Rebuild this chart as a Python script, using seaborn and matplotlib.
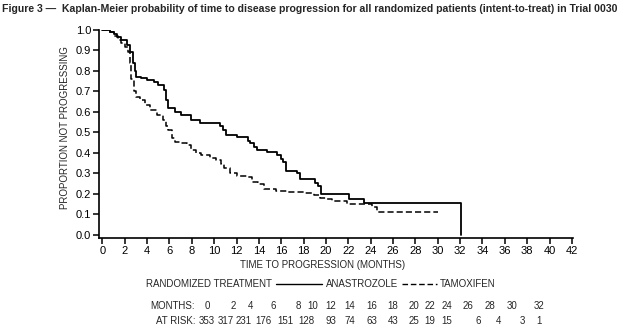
import matplotlib
matplotlib.use("Agg")
import matplotlib.pyplot as plt
from matplotlib.lines import Line2D
import seaborn as sns
import pandas as pd

# Kaplan-Meier step estimates (month at which the estimate changes, new value)
anastrozole_months = [0, 0.7, 1.0, 1.3, 1.7, 2.2, 2.5, 2.7, 2.9, 3.0, 3.5, 4.0, 4.6, 5.0,
                      5.5, 5.7, 5.9, 6.5, 7.0, 7.9, 8.7, 10.5, 10.8, 11.1, 12.0, 13.0,
                      13.2, 13.6, 13.8, 14.7, 15.6, 16.0, 16.2, 16.4, 17.4, 17.7, 19.0,
                      19.3, 19.55, 22.1, 23.4, 32.1]
anastrozole_prop = [1.0, 0.99, 0.98, 0.965, 0.95, 0.925, 0.895, 0.84, 0.80, 0.772, 0.765,
                    0.758, 0.745, 0.73, 0.705, 0.66, 0.62, 0.60, 0.585, 0.562, 0.545, 0.53,
                    0.51, 0.488, 0.477, 0.46, 0.447, 0.43, 0.415, 0.406, 0.388, 0.37, 0.355,
                    0.31, 0.30, 0.275, 0.255, 0.238, 0.20, 0.176, 0.158, 0.0]

tamoxifen_months = [0, 0.5, 1.0, 1.4, 1.7, 2.0, 2.3, 2.45, 2.6, 2.8, 3.0, 3.4, 3.8, 4.3,
                    4.9, 5.4, 5.7, 5.9, 6.2, 6.5, 7.0, 7.6, 7.9, 8.4, 8.8, 9.6, 10.2, 10.6,
                    10.9, 11.4, 12.0, 13.0, 13.4, 13.9, 14.5, 15.5, 16.5, 18.0, 18.9, 19.5,
                    20.1, 20.5, 21.9, 24.1, 24.6, 30.0]
tamoxifen_prop = [1.0, 0.99, 0.97, 0.95, 0.935, 0.915, 0.895, 0.84, 0.76, 0.70, 0.675, 0.658,
                  0.635, 0.61, 0.585, 0.56, 0.53, 0.51, 0.475, 0.455, 0.447, 0.44, 0.415,
                  0.40, 0.39, 0.377, 0.366, 0.345, 0.325, 0.30, 0.288, 0.285, 0.26, 0.247,
                  0.225, 0.215, 0.21, 0.205, 0.195, 0.18, 0.175, 0.165, 0.151, 0.138,
                  0.114, 0.114]

x_ticks = list(range(0, 43, 2))
y_ticks = [0.0, 0.1, 0.2, 0.3, 0.4, 0.5, 0.6, 0.7, 0.8, 0.9, 1.0]

table_months = ["0", "2", "4", "6", "8", "10", "12", "14", "16", "18", "20", "22", "24",
                "26", "28", "30", "32"]
table_at_risk = ["353", "317", "231", "176", "151", "128", "93", "74", "63", "43", "25",
                 "19", "15", "6", "4", "3", "1"]

# column centres (pixels from the left edge) of the numbers-at-risk table
months_col_px = [207, 233, 250, 273, 298, 313, 331, 350, 372, 393, 414, 430, 447, 468,
                 490, 512, 539]
risk_col_px = [207, 226, 244, 263, 285, 306, 331, 350, 372, 393, 414, 430, 447, 478,
               498, 522, 539]

sns.set_theme(style="ticks")
plt.rcParams["font.family"] = ["Liberation Sans", "DejaVu Sans"]

W, H = 642, 330
fig = plt.figure(figsize=(W / 100, H / 100), dpi=100)
fig.patch.set_facecolor("white")

left, right, top, bottom = 99, 573, 30, 238
ax = fig.add_axes([left / W, 1 - bottom / H, (right - left) / W, (bottom - top) / H])
ax.set_facecolor("white")

df_a = pd.DataFrame({"month": anastrozole_months, "prop": anastrozole_prop})
df_t = pd.DataFrame({"month": tamoxifen_months, "prop": tamoxifen_prop})

sns.lineplot(data=df_a, x="month", y="prop", ax=ax, color="black", lw=1.3,
             drawstyle="steps-post", estimator=None, sort=False)
sns.lineplot(data=df_t, x="month", y="prop", ax=ax, color="black", lw=1.1,
             drawstyle="steps-post", estimator=None, sort=False, dashes=False,
             linestyle=(0, (4, 2)))

ax.set_xlim(-0.3, 42.1)
ax.set_ylim(-0.015, 1.0)
ax.set_xticks(x_ticks)
ax.set_xticklabels([str(t) for t in x_ticks])
ax.set_yticks(y_ticks)
ax.set_yticklabels([f"{t:.1f}" for t in y_ticks])
sns.despine(ax=ax)
for s in ("left", "bottom"):
    ax.spines[s].set_linewidth(1.2)
    ax.spines[s].set_color("black")
ax.tick_params(axis="both", direction="out", length=4, width=1.1, color="black",
               labelsize=8, pad=1.5, labelcolor="black")

ax.set_xlabel("TIME TO PROGRESSION (MONTHS)", fontsize=7, va="center")
ax.xaxis.set_label_coords((323 - left) / (right - left), (bottom - 265) / (bottom - top))
ax.set_ylabel("PROPORTION NOT PROGRESSING", fontsize=7, va="center")
ax.yaxis.set_label_coords((65 - left) / (right - left), (bottom - 128) / (bottom - top))


def fx(px):
    return px / W


def fy(py):
    return 1 - py / H


fig.text(fx(2), fy(9), "Figure 3 \u2014  Kaplan-Meier probability of time to disease progression "
         "for all randomized patients (intent-to-treat) in Trial 0030",
         fontsize=7.6, fontweight="bold", ha="left", va="center")

# legend row
fs = 7
fig.text(fx(146), fy(284), "RANDOMIZED TREATMENT", fontsize=fs, ha="left", va="center")
fig.add_artist(Line2D([fx(276), fx(322)], [fy(284), fy(284)], color="black", lw=1.0,
                      transform=fig.transFigure))
fig.text(fx(326), fy(284), "ANASTROZOLE", fontsize=fs, ha="left", va="center")
fig.add_artist(Line2D([fx(402), fx(437)], [fy(284), fy(284)], color="black", lw=1.0,
                      linestyle=(0, (4, 2)), transform=fig.transFigure))
fig.text(fx(440), fy(284), "TAMOXIFEN", fontsize=fs, ha="left", va="center")

# numbers at risk
fig.text(fx(195), fy(306), "MONTHS:", fontsize=fs, ha="right", va="center")
fig.text(fx(195), fy(321), "AT RISK:", fontsize=fs, ha="right", va="center")
for m, px in zip(table_months, months_col_px):
    fig.text(fx(px), fy(306), m, fontsize=fs, ha="center", va="center")
for r, px in zip(table_at_risk, risk_col_px):
    fig.text(fx(px), fy(321), r, fontsize=fs, ha="center", va="center")

fig.savefig("out.png", dpi=100, facecolor="white")
